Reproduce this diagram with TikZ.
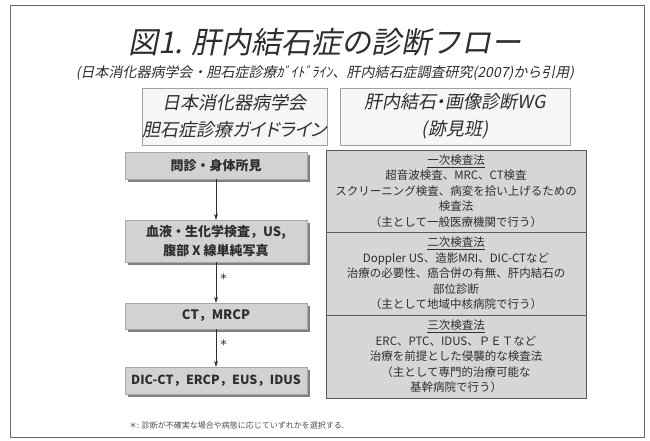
\documentclass[tikz,border=0pt]{standalone}
\usepackage{fontspec}
\setmainfont{Noto Sans CJK JP}
\newfontfamily\jpit[FakeSlant=0.2]{Noto Sans CJK JP}
\newfontfamily\jpitp[FakeSlant=0.2,RawFeature=+palt]{Noto Sans CJK JP}
\newfontfamily\jpsans{Noto Sans CJK JP}
\newfontfamily\jpser{Noto Sans CJK JP}
\newfontfamily\starfont{DejaVu Sans}
\usetikzlibrary{shadows,arrows.meta}
\definecolor{ink}{HTML}{2E2E2E}
\definecolor{flowfill}{HTML}{D2D2D2}
\definecolor{tabfill}{HTML}{D6D6D6}
\definecolor{hdrfill}{HTML}{F6F6F6}
\definecolor{hdrline}{HTML}{A0A0A0}
\definecolor{frameline}{HTML}{6A6A6A}
\tikzset{
  flowbox/.style={fill=flowfill, draw=flowfill!80!black, line width=0.4pt,
    minimum width=182pt, inner sep=0pt, align=center, text=ink,
    font=\jpsans\bfseries\fontsize{13}{18.5}\selectfont,
    drop shadow={shadow xshift=3pt, shadow yshift=-3pt, fill=black!55, opacity=0.9}},
  hdrbox/.style={fill=hdrfill, draw=hdrline, line width=0.6pt, inner sep=0pt, align=center,
    text=ink, font=\jpitp\fontsize{18}{27}\selectfont},
  tabrow/.style={fill=tabfill, draw=black!65, line width=0.6pt, minimum width=260pt,
    inner sep=0pt, align=center, text=ink, font=\jpser\fontsize{11.5}{15.4}\selectfont},
  flowarrow/.style={-{Stealth[length=6pt,width=4pt]}, line width=0.7pt, draw=ink},
  star/.style={font=\starfont\fontsize{13}{13}\selectfont, text=ink, inner sep=0pt}
}
\begin{document}
\begin{tikzpicture}[x=1pt,y=-1pt]
\useasboundingbox (0,0) rectangle (650,440);
\fill[white] (0,0) rectangle (650,440);
% outer frame
\draw[frameline, line width=0.9pt] (10,5) rectangle (644,437);
% title
\node[text=ink, font=\jpit\fontsize{30}{34}\selectfont] (title) at (325,42) {図1. 肝内結石症の診断フロー};
\node[text=ink, font=\jpit\fontsize{14}{16}\selectfont] (subtitle) at (325,73)
  {(日本消化器病学会・胆石症診療ｶﾞｲﾄﾞﾗｲﾝ、肝内結石症調査研究(2007)から引用)};
% header boxes
\node[hdrbox, minimum width=175pt, minimum height=57pt] (hl) at (234.5,116.5)
  {日本消化器病学会\\胆石症診療ガイドライン};
\node[hdrbox, minimum width=230pt, minimum height=57pt] (hr) at (455,116.5)
  {肝内結石・画像診断WG\\(跡見班)};
% left flow
\node[flowbox, minimum height=27pt] (b1) at (216,165.5) {問診・身体所見};
\node[flowbox, minimum height=42pt] (b2) at (216,241) {血液・生化学検査，US,\\腹部 X 線単純写真};
\node[flowbox, minimum height=26pt] (b3) at (216,316) {CT，MRCP};
\node[flowbox, minimum height=27pt, font=\jpsans\bfseries\fontsize{12.5}{18}\selectfont] (b4) at (216,380.5) {DIC-CT，ERCP，EUS，IDUS};
\draw[flowarrow] (b1) -- (b2);
\draw[flowarrow] (b2) -- node[star, right=4pt, pos=0.4] (s1) {*} (b3);
\draw[flowarrow] (b3) -- node[star, right=4pt, pos=0.4] (s2) {*} (b4);
% right table
\node[tabrow, minimum height=82pt] (r1) at (456,191)
  {\underline{一次検査法}\\超音波検査、MRC、CT検査\\スクリーニング検査、病変を拾い上げるための\\検査法\\（主として一般医療機関で行う）};
\node[tabrow, minimum height=83pt] (r2) at (456,273.5)
  {\underline{二次検査法}\\Doppler US、造影MRI、DIC-CTなど\\治療の必要性、癌合併の有無、肝内結石の\\部位診断\\（主として地域中核病院で行う）};
\node[tabrow, minimum height=83pt] (r3) at (456,356.5)
  {\underline{三次検査法}\\ERC、PTC、IDUS、ＰＥＴなど\\治療を前提とした侵襲的な検査法\\（主として専門的治療可能な\\基幹病院で行う）};
% footnote
\node[anchor=west, text=ink!85, font=\fontsize{8}{9}\selectfont, inner sep=0pt] (fn) at (129,425)
  {＊: 診断が不確実な場合や病態に応じていずれかを選択する.};
\end{tikzpicture}
\end{document}
